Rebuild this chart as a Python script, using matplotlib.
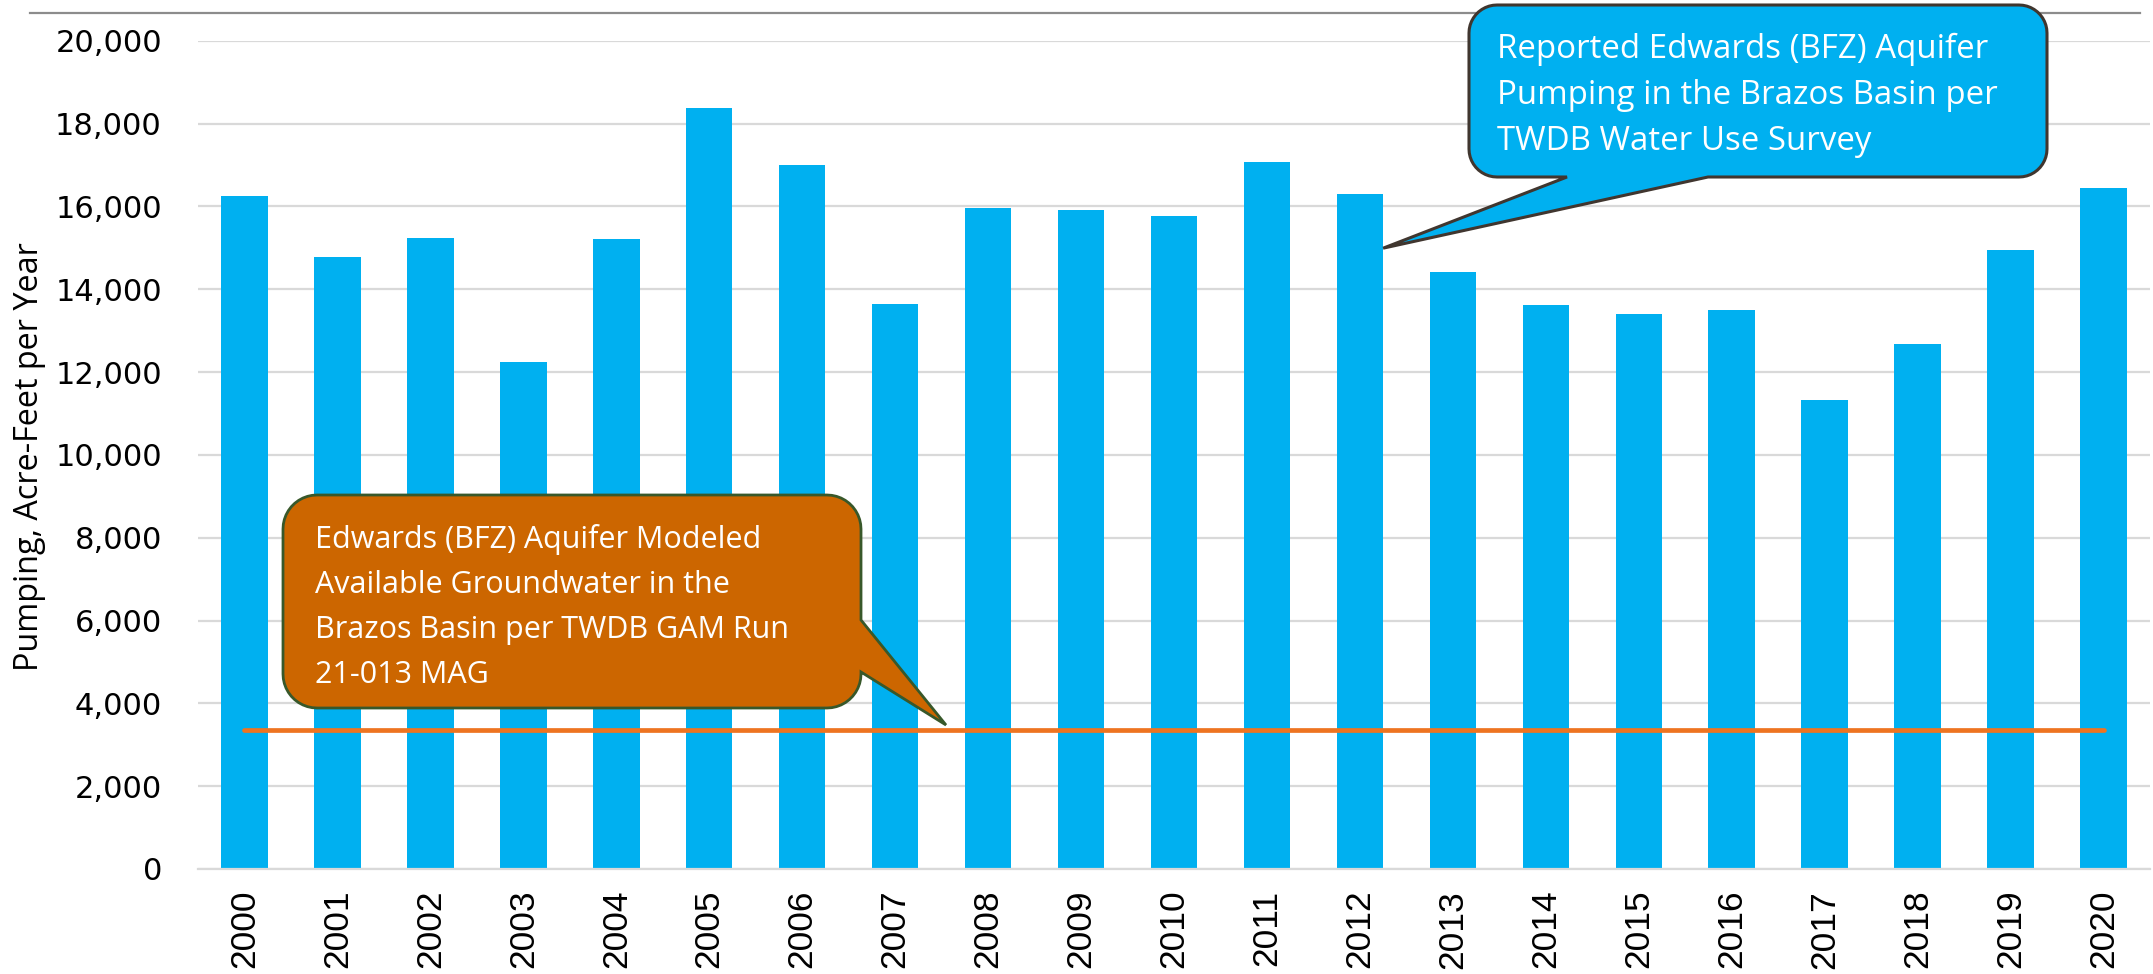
import matplotlib
matplotlib.use('Agg')
import matplotlib.pyplot as plt
import numpy as np
from matplotlib.path import Path
from matplotlib.patches import PathPatch
from matplotlib.lines import Line2D

# ---------------- data ----------------
years = [str(y) for y in range(2000, 2021)]
pumping = [16250, 14770, 15230, 12240, 15210, 18370, 17000, 13650, 15960, 15920,
           15770, 17060, 16310, 14420, 13620, 13400, 13490, 11320, 12670, 14940, 16440]
mag_value = 3350
y_ticks = list(range(0, 20001, 2000))
y_label = 'Pumping, Acre-Feet per Year'
blue_note = ['Reported Edwards (BFZ) Aquifer',
             'Pumping in the Brazos Basin per',
             'TWDB Water Use Survey']
orange_note = ['Edwards (BFZ) Aquifer Modeled',
               'Available Groundwater in the',
               'Brazos Basin per TWDB GAM Run',
               '21-013 MAG']

# ---------------- figure ----------------
W, H = 2153, 974
fig = plt.figure(figsize=(W / 100, H / 100), dpi=100)
ax_left, ax_right, ax_top, ax_bot = 198, 2150, 40.7, 869
ax = fig.add_axes([ax_left / W, 1 - ax_bot / H, (ax_right - ax_left) / W, (ax_bot - ax_top) / H])

x = np.arange(len(years))
ax.bar(x, pumping, width=0.5, color='#00B0F0', zorder=2)
ax.plot(x, [mag_value] * len(x), color='#EE7421', lw=3.4, solid_capstyle='round', zorder=3)

ax.set_xlim(-0.5, len(years) - 0.5)
ax.set_ylim(0, 20000)
ax.set_yticks(y_ticks)
ax.set_yticklabels([f'{v:,}' for v in y_ticks], fontsize=22, family='DejaVu Sans', color='black')
ax.set_xticks(x)
ax.set_xticklabels(years, rotation=90, fontsize=25.5, family='Liberation Sans', color='black')
ax.tick_params(axis='both', length=0)
ax.tick_params(axis='y', pad=26)
ax.tick_params(axis='x', pad=15)
ax.set_axisbelow(True)
ax.yaxis.grid(True, color='#D9D9D9', lw=1.6)
for s in ['top', 'right', 'left']:
    ax.spines[s].set_visible(False)
ax.spines['bottom'].set_color('#D9D9D9')
ax.spines['bottom'].set_linewidth(1.6)

fig.text(30 / W, 1 - 457 / H, y_label, rotation=90, fontsize=23.3, family='Open Sans',
         ha='center', va='center', color='black')

# top border line of the slide area
fig.add_artist(Line2D([30 / W, 2140 / W], [1 - 13 / H, 1 - 13 / H], color='#8C8C8C', lw=1.6))


# ---------------- callouts ----------------
def to_img(xd, yd):
    px, py = ax.transData.transform((xd, yd))
    return px, H - py


def arc(cx, cy, r, a0, a1, n=12):
    t = np.radians(np.linspace(a0, a1, n))
    return list(zip(cx + r * np.cos(t), cy + r * np.sin(t)))


def callout(box, r, edge, b1, b2, tip, fc, ec, lw):
    x0, y0, x1, y1 = box
    pts = []
    pts += arc(x0 + r, y0 + r, r, 180, 270)
    pts += arc(x1 - r, y0 + r, r, 270, 360)
    if edge == 'right':
        pts += [(x1, b1), tip, (x1, b2)]
    pts += arc(x1 - r, y1 - r, r, 0, 90)
    if edge == 'bottom':
        pts += [(b2, y1), tip, (b1, y1)]
    pts += arc(x0 + r, y1 - r, r, 90, 180)
    pts.append(pts[0])
    verts = [(px / W, 1 - py / H) for px, py in pts]
    codes = [Path.MOVETO] + [Path.LINETO] * (len(verts) - 2) + [Path.CLOSEPOLY]
    patch = PathPatch(Path(verts, codes), facecolor=fc, edgecolor=ec, lw=lw,
                      transform=fig.transFigure, joinstyle='miter', zorder=5)
    fig.add_artist(patch)


blue_tip = to_img(12.25, 14990)
callout((1469, 5, 2047, 177), 28, 'bottom', 1567, 1708, blue_tip, '#00B0F0', '#40362F', 2.2)
orange_tip = to_img(7.547, 3477)
callout((283, 495, 861, 708), 34, 'right', 620, 672, orange_tip, '#CC6600', '#38582A', 2.0)

for i, line in enumerate(blue_note):
    fig.text(1497 / W, 1 - (58.5 + 46 * i) / H, line, fontsize=23.8, family='Open Sans',
             color='white', ha='left', va='baseline', zorder=6)
for i, line in enumerate(orange_note):
    fig.text(315 / W, 1 - (548 + 45 * i) / H, line, fontsize=22, family='Open Sans',
             color='white', ha='left', va='baseline', zorder=6)

fig.savefig('out.png', dpi=100)
